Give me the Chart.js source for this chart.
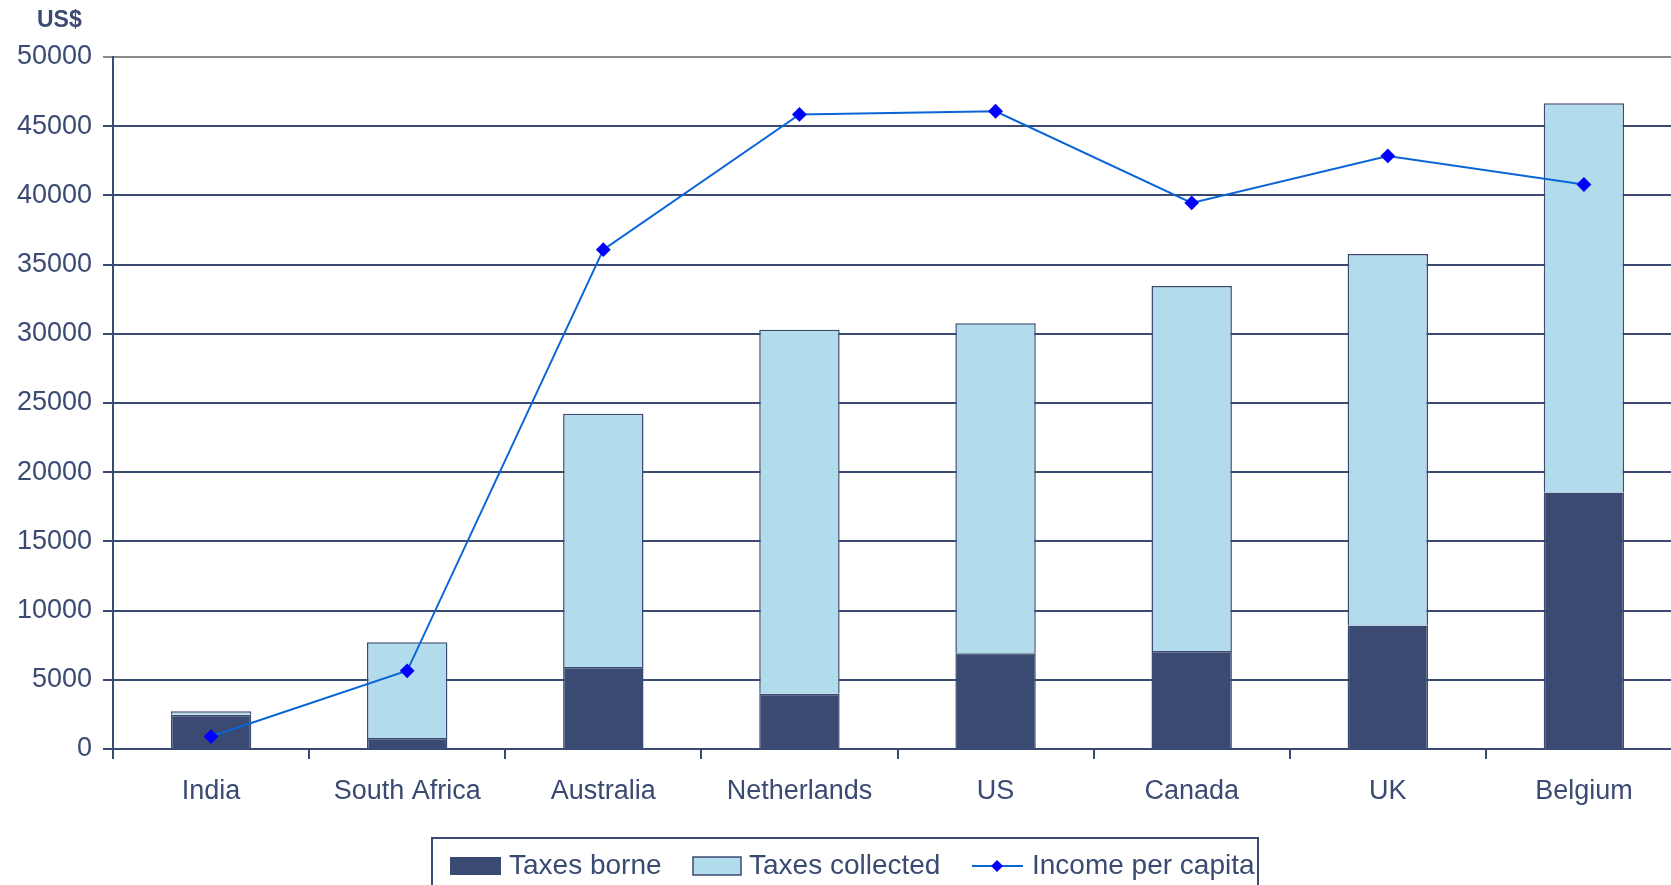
<!DOCTYPE html>
<html>
<head>
<meta charset="utf-8">
<script src="https://cdn.jsdelivr.net/npm/chart.js@4"></script>
<style>
  html, body { margin: 0; padding: 0; background: #fff; overflow: hidden; }
  /* the original plot runs a little past the right edge of the picture */
  #wrap { width: 1682px; height: 885px; position: relative; }
</style>
</head>
<body>
<div id="wrap"><canvas id="taxChart"></canvas></div>
<script>
const NAVY = '#3b4a72';
const LIGHT = '#b2dbec';
const LINE_BLUE = '#0a66d6';
const MARKER = '#0000ff';
const FONT = "'Liberation Sans', Arial, sans-serif";

const countries = ['India', 'South Africa', 'Australia', 'Netherlands', 'US', 'Canada', 'UK', 'Belgium'];
const taxesBorne = [2480, 800, 5920, 4000, 6920, 7080, 8920, 18540];
const taxesCollected = [240, 6910, 18310, 26300, 23850, 26380, 26850, 28110];
const incomePerCapita = [900, 5650, 36080, 45850, 46080, 39460, 42850, 40790];

// Boxed legend at the bottom, drawn by hand to match the original style
const boxedLegend = {
    id: 'boxedLegend',
    afterDraw(chart) {
        const ctx = chart.ctx;
        const ds = chart.data.datasets;
        ctx.save();
        ctx.strokeStyle = NAVY;
        ctx.lineWidth = 2;
        ctx.strokeRect(432, 838, 826, 60);

        ctx.font = '28px ' + FONT;
        ctx.fillStyle = NAVY;
        ctx.textBaseline = 'middle';
        const cy = 866;

        // Taxes borne
        ctx.fillStyle = ds[1].backgroundColor;
        ctx.fillRect(450, cy - 9, 51, 18);
        ctx.fillStyle = NAVY;
        ctx.fillText(ds[1].label, 509, cy);

        // Taxes collected
        ctx.fillStyle = ds[2].backgroundColor;
        ctx.fillRect(693, cy - 9, 48, 18);
        ctx.strokeStyle = NAVY;
        ctx.lineWidth = 1.5;
        ctx.strokeRect(693, cy - 9, 48, 18);
        ctx.fillStyle = NAVY;
        ctx.fillText(ds[2].label, 749, cy);

        // Income per capita
        ctx.strokeStyle = ds[0].borderColor;
        ctx.lineWidth = 2;
        ctx.beginPath();
        ctx.moveTo(972, cy);
        ctx.lineTo(1023, cy);
        ctx.stroke();
        ctx.fillStyle = MARKER;
        ctx.beginPath();
        ctx.moveTo(997, cy - 6);
        ctx.lineTo(1003, cy);
        ctx.lineTo(997, cy + 6);
        ctx.lineTo(991, cy);
        ctx.closePath();
        ctx.fill();
        ctx.fillStyle = NAVY;
        ctx.fillText(ds[0].label, 1032, cy);

        // Axis unit
        ctx.font = 'bold 23px ' + FONT;
        ctx.textBaseline = 'middle';
        ctx.fillText('US$', 37, 21);
        ctx.restore();
    }
};

const ctx = document.getElementById('taxChart').getContext('2d');
new Chart(ctx, {
    type: 'bar',
    data: {
        labels: countries,
        datasets: [
            {
                type: 'line',
                label: 'Income per capita',
                data: incomePerCapita,
                stack: 'income',
                borderColor: LINE_BLUE,
                borderWidth: 2,
                backgroundColor: MARKER,
                pointStyle: 'rectRot',
                pointRadius: 6,
                pointBackgroundColor: MARKER,
                pointBorderColor: MARKER,
                tension: 0,
                order: 0
            },
            {
                label: 'Taxes borne',
                data: taxesBorne,
                stack: 'tax',
                backgroundColor: NAVY,
                borderColor: NAVY,
                borderWidth: 1.5,
                order: 1
            },
            {
                label: 'Taxes collected',
                data: taxesCollected,
                stack: 'tax',
                backgroundColor: LIGHT,
                borderColor: NAVY,
                borderWidth: 1.5,
                order: 1
            }
        ]
    },
    options: {
        responsive: true,
        maintainAspectRatio: false,
        animation: false,
        layout: { autoPadding: false, padding: { top: 57, left: 0, right: 0, bottom: 0 } },
        datasets: {
            bar: { categoryPercentage: 1, barPercentage: 0.41 }
        },
        plugins: {
            legend: { display: false },
            tooltip: { enabled: false }
        },
        scales: {
            x: {
                stacked: true,
                grid: {
                    offset: true,
                    drawOnChartArea: false,
                    color: NAVY,
                    lineWidth: 2,
                    tickLength: 10
                },
                border: { color: NAVY, width: 2 },
                ticks: {
                    color: NAVY,
                    padding: 16,
                    font: { family: FONT, size: 27 }
                },
                afterFit(scale) {
                    scale.height = 136;
                }
            },
            y: {
                stacked: true,
                min: 0,
                max: 50000,
                ticks: {
                    stepSize: 5000,
                    color: NAVY,
                    padding: 11,
                    font: { family: FONT, size: 27 },
                    callback: v => String(v)
                },
                grid: {
                    color: c => (c.tick && c.tick.value === 50000) ? '#8a8a8a' : NAVY,
                    lineWidth: 2,
                    tickLength: 10
                },
                border: { color: NAVY, width: 2 },
                afterFit(scale) { scale.width = 113; }
            }
        }
    },
    plugins: [boxedLegend]
});
</script>
</body>
</html>
